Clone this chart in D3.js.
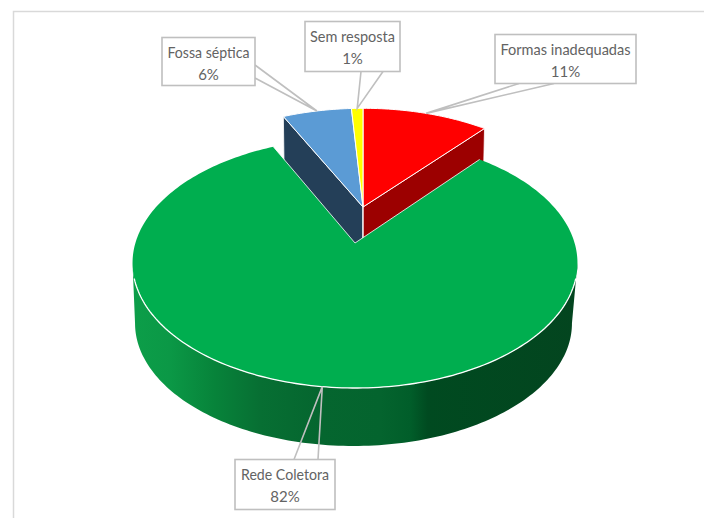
<!DOCTYPE html>
<html>
<head>
<meta charset="utf-8">
<style>
  html, body { margin: 0; padding: 0; background: #fff; }
  svg { display: block; }
  text { font-family: Lato, "Open Sans", sans-serif; fill: #636363; font-size: 15px; }
</style>
<script src="https://cdn.jsdelivr.net/npm/d3@7/dist/d3.min.js"></script>
</head>
<body>
<svg id="chart" width="704" height="518"></svg>
<script>
// Destino do esgoto, em percentual de respostas
const categories = ["Formas inadequadas", "Rede Coletora", "Fossa séptica", "Sem resposta"];
const values = [11, 82, 6, 1];
const topColors = ["#ff0000", "#00ae4f", "#5b9bd5", "#ffff00"];
const sideColors = ["#9c0000", "#007a36", "#243f58", "#a8a800"];

const svg = d3.select("#chart");

// Perspective projection of a unit disc onto the page
const K = -0.16, AY = 121.8, AX = 219.6;
const project = (theta, r, o) => {
  const u = r * Math.sin(theta), v = -r * Math.cos(theta);
  const d = 1 + K * v;
  return [o.x + o.s * AX * u / d, o.y + (o.sy || o.s) * AY * v / d];
};

// Origins of the upper and lower discs of each group of slices
const mainTop = { x: 355, y: 243, s: 1 };
const mainBottom = { x: 353.5, y: 303.6, s: 0.982 };
const liftedTop = { x: 363, y: 207, s: 0.975, sy: 0.94 };
const liftedBottom = { x: 363, y: 265, s: 0.965, sy: 0.93 };

const arcs = d3.pie().sort(null).value(d => d)(values);
const origin = i => (i === 1 ? mainTop : liftedTop);
const line = d3.line();

const rim = (a0, a1, o) => {
  const n = Math.max(2, Math.ceil(Math.abs(a1 - a0) / 0.02));
  return d3.range(n + 1).map(k => project(a0 + (a1 - a0) * k / n, 1, o));
};
const wedge = (a, o) => line([[o.x, o.y], ...rim(a.startAngle, a.endAngle, o)]) + "Z";

// Shading around the outer wall of the large slice, by page x
const wallX = d3.scaleLinear().domain([132, 577]).range([0, 1]);
const grad = svg.append("defs").append("linearGradient")
  .attr("id", "wall").attr("gradientUnits", "userSpaceOnUse")
  .attr("x1", 132).attr("x2", 577).attr("y1", 0).attr("y2", 0);
[[132, "#0c9e49"], [170, "#0b9846"], [215, "#07833a"], [260, "#076f33"], [320, "#05662f"],
 [380, "#04642e"], [410, "#015e2a"], [428, "#004a20"], [577, "#03451f"]]
  .forEach(([x, c]) => grad.append("stop").attr("offset", wallX(x)).attr("stop-color", c));

// Frame
svg.append("path").attr("d", "M13.5,518V11.5H704")
  .attr("fill", "none").attr("stroke", "#d9d9d9").attr("stroke-width", 1.5);

// Side walls of the lifted slices: cut faces first, tops later
const lifted = [0, 2, 3];
const cutFace = (a, o, b) => line([[o.x, o.y], project(a, 1, o), project(a, 1, b), [b.x, b.y]]) + "Z";
svg.append("path").attr("d", cutFace(arcs[2].startAngle, liftedTop, liftedBottom))
  .attr("fill", sideColors[2]).attr("stroke", "#fff").attr("stroke-width", 0.8);
svg.append("path").attr("d", cutFace(arcs[0].endAngle, liftedTop, liftedBottom))
  .attr("fill", sideColors[0]).attr("stroke", "#fff").attr("stroke-width", 0.8);
svg.append("path").attr("d", line([[liftedTop.x, liftedTop.y], [liftedBottom.x, liftedBottom.y]]))
  .attr("stroke", "#fff").attr("stroke-width", 1).attr("fill", "none");

lifted.forEach(i => {
  svg.append("path").attr("d", wedge(arcs[i], liftedTop))
    .attr("fill", topColors[i]).attr("stroke", "#fff").attr("stroke-width", 1);
});

// Outer wall of the large slice between the widest points, then its top
const widest = Math.acos(K);
const front0 = widest, front1 = 2 * Math.PI - widest;
const wallPts = [...rim(front0, front1, mainTop), ...rim(front1, front0, mainBottom)];
svg.append("path").attr("d", line(wallPts) + "Z").attr("fill", "url(#wall)");

svg.append("path").attr("d", wedge(arcs[1], mainTop)).attr("fill", topColors[1]);
svg.append("path").attr("d", line(rim(Math.PI * 0.59, Math.PI * 1.41, mainTop)))
  .attr("fill", "none").attr("stroke", "#fff").attr("stroke-width", 1.3);
svg.append("path")
  .attr("d", line([project(arcs[1].startAngle, 1, mainTop), [mainTop.x, mainTop.y], project(arcs[1].endAngle, 1, mainTop)]))
  .attr("fill", "none").attr("stroke", "#fff").attr("stroke-width", 0.8);

// Callout boxes; each pointer ends on the rim at the slice's middle angle
const boxes = [
  { i: 0, x: 495, y: 34.5, w: 141, h: 49, tw: 130, base: [[519, 83.5], [554, 83.5]] },
  { i: 1, x: 235, y: 459.5, w: 100, h: 50, tw: 88, base: [[294, 459.5], [318, 459.5]] },
  { i: 2, x: 162, y: 37.5, w: 93, h: 48, tw: 82, base: [[255, 65], [255, 78]] },
  { i: 3, x: 305, y: 21.5, w: 95, h: 50, tw: 85, base: [[361, 71.5], [383, 71.5]] }
];
boxes.forEach(b => {
  const a = arcs[b.i];
  const tip = project((a.startAngle + a.endAngle) / 2, 1, origin(b.i));
  svg.append("path").attr("d", line([b.base[0], tip, b.base[1]]))
    .attr("fill", "none").attr("stroke", "#bfbfbf").attr("stroke-width", 1.6);
  svg.append("rect").attr("x", b.x).attr("y", b.y).attr("width", b.w).attr("height", b.h)
    .attr("fill", "#fff").attr("stroke", "#bfbfbf").attr("stroke-width", 1.6);
  svg.append("text").attr("x", b.x + b.w / 2).attr("y", b.y + 20.5).attr("text-anchor", "middle")
    .attr("textLength", b.tw).attr("lengthAdjust", "spacingAndGlyphs").text(categories[b.i]);
  svg.append("text").attr("x", b.x + b.w / 2).attr("y", b.y + 42.5).attr("text-anchor", "middle")
    .text(values[b.i] + "%");
});
</script>
</body>
</html>
